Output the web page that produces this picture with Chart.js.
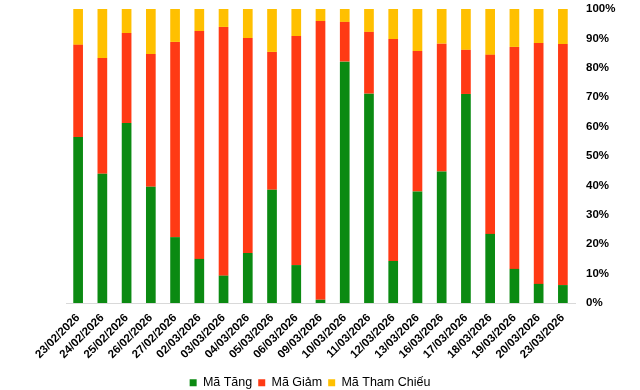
<!DOCTYPE html>
<html>
<head>
<meta charset="utf-8">
<script src="https://cdn.jsdelivr.net/npm/chart.js@4"></script>
<style>
  html, body { margin: 0; padding: 0; background: #fff; }
  #wrap { width: 640px; height: 390px; }
</style>
</head>
<body>
<div id="wrap"><canvas id="chart"></canvas></div>
<script>
let dates = ['23/02/2026', '24/02/2026', '25/02/2026', '26/02/2026', '27/02/2026', '02/03/2026', '03/03/2026',
  '04/03/2026', '05/03/2026', '06/03/2026', '09/03/2026', '10/03/2026', '11/03/2026', '12/03/2026',
  '13/03/2026', '16/03/2026', '17/03/2026', '18/03/2026', '19/03/2026', '20/03/2026', '23/03/2026']

let maTang = [56.5, 44.0, 61.2, 39.5, 22.4, 15.0, 9.3, 17.0, 38.5, 12.9, 1.1, 82.1, 71.2, 14.3, 37.9, 44.7, 71.1, 23.5, 11.6, 6.5, 6.1]
let maGiam = [31.3, 39.3, 30.6, 45.2, 66.4, 77.5, 84.6, 73.1, 46.9, 77.9, 94.8, 13.5, 21.0, 75.5, 47.8, 43.5, 15.0, 60.9, 75.5, 81.9, 82.0]
let maThamChieu = [12.2, 16.7, 8.2, 15.3, 11.2, 7.5, 6.1, 9.9, 14.6, 9.2, 4.1, 4.4, 7.8, 10.2, 14.3, 11.8, 13.9, 15.6, 12.9, 11.6, 11.9]

let seriesNames = ['Mã Tăng', 'Mã Giảm', 'Mã Tham Chiếu']
let seriesColors = ['#0b8a12', '#ff3a14', '#ffc000']

const fontFamily = '"Liberation Sans", Arial, sans-serif'

function makeSet(i, values){
  return {
    label: seriesNames[i],
    data: values,
    backgroundColor: seriesColors[i],
    borderWidth: 0,
    barPercentage: 0.4,
    categoryPercentage: 1.0
  }
}

new Chart('chart', {
  type: 'bar',
  data: {
    labels: dates,
    datasets: [makeSet(0, maTang), makeSet(1, maGiam), makeSet(2, maThamChieu)]
  },
  options: {
    responsive: true,
    maintainAspectRatio: false,
    animation: false,
    layout: { padding: { left: 0, right: 20, top: 9, bottom: -9 } },
    plugins: {
      legend: {
        position: 'bottom',
        labels: {
          boxWidth: 7,
          boxHeight: 7,
          padding: 6,
          color: '#000',
          font: { family: fontFamily, size: 12.5 }
        }
      },
      tooltip: { enabled: false }
    },
    scales: {
      x: {
        stacked: true,
        grid: { display: false, drawTicks: false },
        border: { display: true, color: '#d9d9d9', width: 1 },
        ticks: {
          autoSkip: false,
          maxRotation: 45,
          minRotation: 45,
          padding: 8,
          color: '#000',
          font: { family: fontFamily, size: 11.5, weight: 'bold' }
        },
        afterFit: s => {
          // keep the plot area where the original sits
          s.height = 67.5;
          s.paddingLeft = 66;
          s.paddingRight = 0;
        }
      },
      y: {
        stacked: true,
        position: 'right',
        min: 0,
        max: 100,
        grid: { display: false, drawTicks: false },
        border: { display: false },
        ticks: {
          stepSize: 10,
          padding: 11,
          color: '#000',
          font: { family: fontFamily, size: 11.5, weight: 'bold' },
          callback: v => v + '%'
        },
        afterFit: s => {
          s.width = 45;
          s.paddingTop = 0;
          s.paddingBottom = 0;
        }
      }
    }
  }
})
</script>
</body>
</html>
